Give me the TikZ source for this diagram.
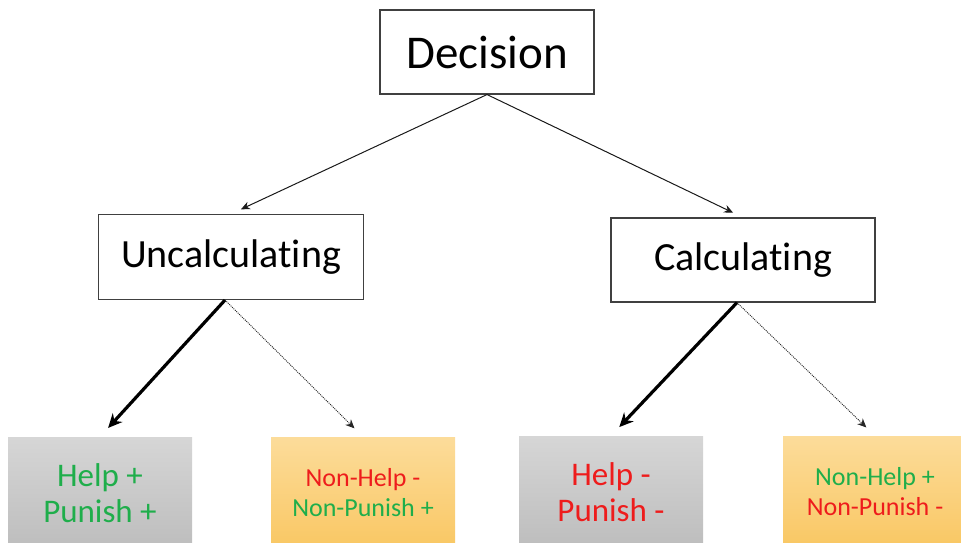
\documentclass[tikz,border=0pt]{standalone}
\usepackage{fontspec}
\setmainfont[Ligatures={NoCommon}]{Carlito}
\usepackage{tikz}
\usetikzlibrary{positioning,calc,arrows.meta}

\definecolor{okgreen}{HTML}{1FAE4B}
\definecolor{badred}{HTML}{EE1C1C}
\definecolor{greytop}{HTML}{D6D6D6}
\definecolor{greybot}{HTML}{BDBDBD}
\definecolor{orangetop}{HTML}{FCDC9A}
\definecolor{orangebot}{HTML}{F9C763}

\begin{document}
\begin{tikzpicture}[x=1pt, y=-1pt,
  stage/.style={draw=black!75, line width=1.1pt, fill=white, shape=rectangle, inner sep=0pt},
  outcome/.style={shape=rectangle, minimum height=112pt, minimum width=184pt, align=center, inner sep=0pt},
  greybox/.style={outcome, top color=greytop, bottom color=greybot},
  orangebox/.style={outcome, top color=orangetop, bottom color=orangebot},
  split/.style={-{Stealth[length=9pt, width=8pt]}, line width=1pt, black!90, shorten >=11pt},
  strong/.style={-{Stealth[length=14pt, width=13pt]}, line width=3.2pt, shorten >=12pt},
  weak/.style={-{Stealth[length=9pt, width=8pt]}, black!85, line width=0.9pt, dash pattern=on 1pt off 1pt, shorten >=12pt}]

\useasboundingbox (0,0) rectangle (961,542);
\clip (0,0) rectangle (961,542);

\path (487, 52) node[stage, minimum width=214pt, minimum height=84pt, font=\fontsize{47}{52}\selectfont] (dec) {Decision};

\path (231, 257) node[stage, minimum width=265pt, minimum height=85pt, font=\fontsize{40}{46}\selectfont] (unc) {Uncalculating};
\path (743, 260) node[stage, minimum width=264pt, minimum height=84pt, font=\fontsize{40}{46}\selectfont] (calc) {Calculating};

\path (100, 493) node[greybox, font=\fontsize{33}{36}\selectfont] (hp1) {\textcolor{okgreen}{Help +}\\\textcolor{okgreen}{Punish +}};
\path (363, 493) node[orangebox, font=\fontsize{26}{30}\selectfont] (nn1) {\textcolor{badred}{Non-Help -}\\\textcolor{okgreen}{Non-Punish +}};
\path (611, 492) node[greybox, font=\fontsize{33}{36}\selectfont] (hp2) {\textcolor{badred}{Help -}\\\textcolor{badred}{Punish -}};
\path (875, 492) node[orangebox, font=\fontsize{26}{30}\selectfont] (nn2) {\textcolor{okgreen}{Non-Help +}\\\textcolor{badred}{Non-Punish -}};

\draw[split] (dec.south) -- (unc.north);
\draw[split] (dec.south) -- (calc.north);

\draw[strong] ($(unc.south)+(-6,0)$) -- (hp1.north);
\draw[weak] ($(unc.south)+(-6,0)$) -- (nn1.north);
\draw[strong] ($(calc.south)+(-6,0)$) -- (hp2.north);
\draw[weak] ($(calc.south)+(-6,0)$) -- (nn2.north);
\end{tikzpicture}
\end{document}
